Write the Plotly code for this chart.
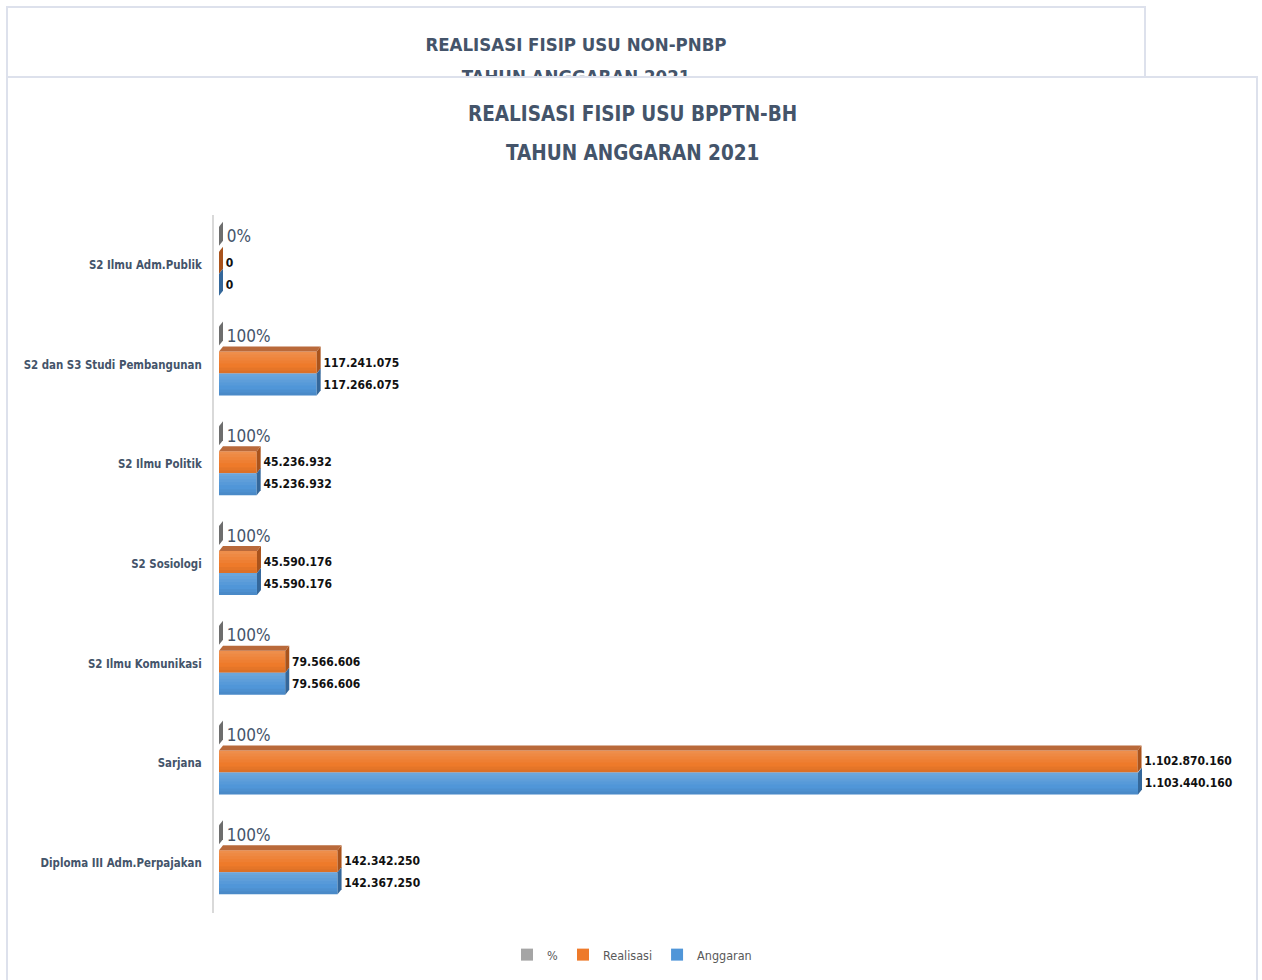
import plotly.graph_objects as go

# ---------------- data ----------------
categories = [
    "Diploma III Adm.Perpajakan",
    "Sarjana",
    "S2 Ilmu Komunikasi",
    "S2 Sosiologi",
    "S2 Ilmu Politik",
    "S2 dan S3 Studi Pembangunan",
    "S2 Ilmu Adm.Publik",
]
anggaran = [142367250, 1103440160, 79566606, 45590176, 45236932, 117266075, 0]
realisasi = [142342250, 1102870160, 79566606, 45590176, 45236932, 117241075, 0]
persen = [1, 1, 1, 1, 1, 1, 0]

title_main = ["REALISASI FISIP USU BPPTN-BH", "TAHUN ANGGARAN 2021"]
title_back = ["REALISASI FISIP USU NON-PNBP", "TAHUN ANGGARAN 2021"]
legend_names = ["%", "Realisasi", "Anggaran"]

# ---------------- styling / geometry ----------------
W, H = 1262, 980
FONT = "DejaVu Sans Condensed, Liberation Sans Narrow, sans-serif"
SLATE = "#44546A"
PX_L, PX_R = 214, 1240          # plot area in pixels
PX_T, PX_B = 215, 913
XMIN, XMAX = -6.0e6, 1.2259e9
PLOT_W = PX_R - PX_L
PLOT_H = PX_B - PX_T
BAND = PLOT_H / len(categories)   # pixels per category
UNIT = (XMAX - XMIN) / PLOT_W     # data units per pixel

DX, DY = 4, 5                     # 3D depth in pixels


def fmt(v):
    return "\u00a0" + f"{v:,}".replace(",", ".")


series = [
    dict(name=legend_names[0], vals=persen, text=["\u00a0" + f"{int(p*100)}%" for p in persen],
         front="#A5A5A5", top="#8C8C8C", side="#6E6E6E", T=38, B=19,
         font=dict(family=FONT, size=17, color=SLATE)),
    dict(name=legend_names[1], vals=realisasi, text=[fmt(v) for v in realisasi],
         front="#EE7A2A", top="#B9693A", side="#A9531C", T=13, B=-9,
         font=dict(family=FONT, size=12, color="#111111", weight="bold")),
    dict(name=legend_names[2], vals=anggaran, text=[fmt(v) for v in anggaran],
         front="#5096D8", top="#4A7FB0", side="#34679A", T=-9, B=-31,
         font=dict(family=FONT, size=12, color="#111111", weight="bold")),
]

fig = go.Figure()

shapes = []
# panels (below everything)
shapes.append(dict(type="rect", xref="paper", yref="paper", layer="below",
                   x0=7 / W, x1=1145 / W, y0=1 - 77 / H, y1=1 - 7 / H,
                   fillcolor="white", line=dict(color="#DDE1EC", width=2)))
shapes.append(dict(type="rect", xref="paper", yref="paper", layer="below",
                   x0=7 / W, x1=1257 / W, y0=-0.01, y1=1 - 77 / H,
                   fillcolor="white", line=dict(color="#DDE1EC", width=2)))

for s in series:
    width = (s["T"] - s["B"]) / BAND
    offset = s["B"] / BAND
    fig.add_trace(go.Bar(
        y=categories, x=s["vals"], orientation="h", name=s["name"],
        marker=dict(color=s["front"], line=dict(width=0)),
        width=width, offset=offset,
        text=s["text"], textposition="outside", textfont=s["font"],
        constraintext="none", cliponaxis=False, hoverinfo="skip",
    ))
    for cat, v in zip(categories, s["vals"]):
        T, B = s["T"], s["B"]
        # soft vertical shading of the front face (stepped light-to-dark)
        if v > 0 and s["name"] != legend_names[0]:
            for h in (3, 6, 9, 12):
                shapes.append(dict(
                    type="rect", xref="x", yref="y", layer="above",
                    x0=0, x1=v, ysizemode="pixel", yanchor=cat, y0=T, y1=T - h,
                    fillcolor="rgba(255,255,255,0.045)", line=dict(width=0)))
            for h in (3, 6):
                shapes.append(dict(
                    type="rect", xref="x", yref="y", layer="above",
                    x0=0, x1=v, ysizemode="pixel", yanchor=cat, y0=B + h, y1=B,
                    fillcolor="rgba(0,0,0,0.035)", line=dict(width=0)))
        # right side face
        shapes.append(dict(
            type="path", xref="x", yref="y", layer="above",
            xsizemode="pixel", xanchor=v, ysizemode="pixel", yanchor=cat,
            path=f"M0,{B} L0,{T} L{DX},{T + DY} L{DX},{B + DY} Z",
            fillcolor=s["side"], line=dict(width=0)))
        # top face (only for the upper two series; the lowest is hidden)
        if s["name"] != legend_names[2]:
            ddx = DX * UNIT
            shapes.append(dict(
                type="path", xref="x", yref="y", layer="above",
                ysizemode="pixel", yanchor=cat,
                path=f"M0,{T} L{v:.1f},{T} L{v + ddx:.1f},{T + DY} L{ddx:.1f},{T + DY} Z",
                fillcolor=s["top"], line=dict(width=0)))

# back panel title, clipped by the front panel edge
fig.add_trace(go.Scatter(
    x=[0.5, 0.5], y=[30, -2], mode="text", text=title_back,
    textfont=dict(family=FONT, size=18.5, color=SLATE, weight="bold"),
    textposition="middle center",
    xaxis="x2", yaxis="y2", showlegend=False, hoverinfo="skip", cliponaxis=True,
))

annotations = [
    dict(text=title_main[0], x=632 / W, y=1 - 114 / H, xref="paper", yref="paper",
         showarrow=False, xanchor="center", yanchor="middle",
         font=dict(family=FONT, size=20.5, color=SLATE, weight="bold")),
    dict(text=title_main[1], x=632 / W, y=1 - 153 / H, xref="paper", yref="paper",
         showarrow=False, xanchor="center", yanchor="middle",
         font=dict(family=FONT, size=20.5, color=SLATE, weight="bold")),
]

fig.update_layout(
    width=W, height=H,
    margin=dict(l=0, r=0, t=0, b=0, pad=0),
    paper_bgcolor="white", plot_bgcolor="rgba(0,0,0,0)",
    barmode="overlay",
    showlegend=True,
    legend=dict(orientation="h", x=632 / W, xanchor="center", y=1 - 955 / H, yanchor="middle",
                font=dict(family=FONT, size=12.5, color="#595959"),
                itemwidth=30, bgcolor="rgba(0,0,0,0)"),
    xaxis=dict(domain=[PX_L / W, PX_R / W], range=[XMIN, XMAX], visible=False,
               showgrid=False, zeroline=False, fixedrange=True),
    yaxis=dict(domain=[1 - PX_B / H, 1 - PX_T / H], type="category",
               categoryorder="array", categoryarray=categories,
               range=[-0.5, len(categories) - 0.5],
               showline=True, linecolor="#D9D9D9", linewidth=2,
               showgrid=False, zeroline=False, ticks="", ticklabelstandoff=8,
               automargin=False, fixedrange=True,
               tickfont=dict(family=FONT, size=11.4, color=SLATE, weight="bold")),
    xaxis2=dict(domain=[7 / W, 1145 / W], range=[0, 1], visible=False, anchor="y2",
                showgrid=False, zeroline=False, fixedrange=True),
    yaxis2=dict(domain=[1 - 76 / H, 1 - 8 / H], range=[0, 68], visible=False, anchor="x2",
                showgrid=False, zeroline=False, fixedrange=True),
    shapes=shapes,
    annotations=annotations,
    hovermode=False,
)

fig.write_html("out.html", config={"displayModeBar": False},
               post_script="document.body.style.margin='0px';")
